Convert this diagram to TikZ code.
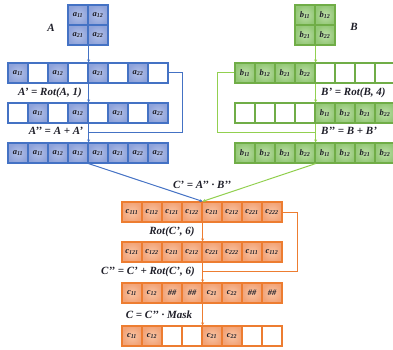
\documentclass[tikz,border=0pt]{standalone}
\usepackage{fontspec}
\usetikzlibrary{arrows.meta}
\newfontfamily\labfont{Liberation Serif}
\definecolor{bdA}{HTML}{4472C4}
\definecolor{fiA}{HTML}{8FA3DA}
\definecolor{inA}{HTML}{B2C0E8}
\definecolor{bdB}{HTML}{70AD47}
\definecolor{fiB}{HTML}{94C877}
\definecolor{inB}{HTML}{BCDEA8}
\definecolor{lnB}{HTML}{92D050}
\definecolor{bdC}{HTML}{ED7D31}
\definecolor{fiC}{HTML}{F2A377}
\definecolor{inC}{HTML}{F8C4A4}
\definecolor{ink}{HTML}{1E1E28}
\newcommand\sbs[1]{\textsubscript{#1}}
\tikzset{
  cellbase/.style={rectangle, minimum width=20pt, minimum height=20pt, inner sep=0pt,
    line width=1.2pt, text=ink, font=\labfont\bfseries\itshape\fontsize{8.5}{9}\selectfont},
  fa/.style={cellbase, draw=bdA, inner color=inA, outer color=fiA},
  ea/.style={cellbase, draw=bdA, fill=white},
  fb/.style={cellbase, draw=bdB, inner color=inB, outer color=fiB},
  eb/.style={cellbase, draw=bdB, fill=white},
  fc/.style={cellbase, draw=bdC, inner color=inC, outer color=fiC},
  ec/.style={cellbase, draw=bdC, fill=white},
  lbl/.style={text=ink, font=\labfont\bfseries\itshape\fontsize{11}{12}\selectfont, inner sep=1pt},
  flow/.style={line width=1pt},
  tip/.style={-{Stealth[length=3pt,width=3pt]}},
}
% one row of eight cells: name, left x, centre y, list of style/text
\newcommand\cellrow[4]{%
  \foreach \s/\t [count=\i] in {#4} {%
    \node[\s] (#1-\i) at ({#2+20*\i-10},#3) {\t};}}
\begin{document}
\begin{tikzpicture}[x=1pt,y=-1pt]
\useasboundingbox (0,0) rectangle (393,350);
\clip (0,0) rectangle (393,350);

% input matrices
\node[fa] (am-1) at (78,15) {a\sbs{11}};
\node[fa] (am-2) at (98,15) {a\sbs{12}};
\node[fa] (am-3) at (78,35) {a\sbs{21}};
\node[fa] (am-4) at (98,35) {a\sbs{22}};
\node[lbl] (alab) at (51,28) {A};

\node[fb] (bm-1) at (305,15) {b\sbs{11}};
\node[fb] (bm-2) at (325,15) {b\sbs{12}};
\node[fb] (bm-3) at (305,35) {b\sbs{21}};
\node[fb] (bm-4) at (325,35) {b\sbs{22}};
\node[lbl] (blab) at (354,27) {B};

% A rows
\cellrow{a1}{8}{73}{fa/a\sbs{11},ea/,fa/a\sbs{12},ea/,fa/a\sbs{21},ea/,fa/a\sbs{22},ea/}
\cellrow{a2}{8}{113}{ea/,fa/a\sbs{11},ea/,fa/a\sbs{12},ea/,fa/a\sbs{21},ea/,fa/a\sbs{22}}
\cellrow{a3}{8}{153}{fa/a\sbs{11},fa/a\sbs{11},fa/a\sbs{12},fa/a\sbs{12},fa/a\sbs{21},fa/a\sbs{21},fa/a\sbs{22},fa/a\sbs{22}}

% B rows
\cellrow{b1}{235}{73}{fb/b\sbs{11},fb/b\sbs{12},fb/b\sbs{21},fb/b\sbs{22},eb/,eb/,eb/,eb/}
\cellrow{b2}{235}{113}{eb/,eb/,eb/,eb/,fb/b\sbs{11},fb/b\sbs{12},fb/b\sbs{21},fb/b\sbs{22}}
\cellrow{b3}{235}{153}{fb/b\sbs{11},fb/b\sbs{12},fb/b\sbs{21},fb/b\sbs{22},fb/b\sbs{11},fb/b\sbs{12},fb/b\sbs{21},fb/b\sbs{22}}

% C rows
\cellrow{c1}{122}{212}{fc/c\sbs{111},fc/c\sbs{112},fc/c\sbs{121},fc/c\sbs{122},fc/c\sbs{211},fc/c\sbs{212},fc/c\sbs{221},fc/c\sbs{222}}
\cellrow{c2}{122}{252}{fc/c\sbs{121},fc/c\sbs{122},fc/c\sbs{211},fc/c\sbs{212},fc/c\sbs{221},fc/c\sbs{222},fc/c\sbs{111},fc/c\sbs{112}}
\cellrow{c3}{122}{293}{fc/c\sbs{11},fc/c\sbs{12},fc/\#\#,fc/\#\#,fc/c\sbs{21},fc/c\sbs{22},fc/\#\#,fc/\#\#}
\cellrow{c4}{122}{336}{fc/c\sbs{11},fc/c\sbs{12},ec/,ec/,fc/c\sbs{21},fc/c\sbs{22},ec/,ec/}

% operation labels
\node[lbl] (la1) at (50,93) {A’ = Rot(A, 1)};
\node[lbl] (la2) at (56,131) {A’’ = A + A’};
\node[lbl, anchor=west] (lb1) at (320,93) {B’ = Rot(B, 4)};
\node[lbl, anchor=west] (lb2) at (320,131) {B’’ = B + B’};
\node[lbl] (lc0) at (202,185) {C’ = A’’ · B’’};
\node[lbl] (lc1) at (172,232) {Rot(C’, 6)};
\node[lbl] (lc2) at (148,272) {C’’ = C’ + Rot(C’, 6)};
\node[lbl] (lc3) at (159,315) {C = C’’ · Mask};

% junction points
\coordinate (ajoin) at (88,132);
\coordinate (bjoin) at (315,132);
\coordinate (cjoin) at (202,271);

% A flow
\begin{scope}[flow, draw=bdA]
  \draw[tip] (am-3.south east) -- (a1-4.north east);
  \draw[tip] (a1-4.south east) -- (a2-4.north east);
  \draw[tip] (a2-4.south east) -- (a3-4.north east);
  \draw (a1-8.east) -- ++(14,0) |- (ajoin);
  \draw[tip] (a3-4.south east) -- (c1-4.north east);
\end{scope}

% B flow
\begin{scope}[flow, draw=lnB]
  \draw[tip] (bm-3.south east) -- (b1-4.north east);
  \draw[tip] (b1-4.south east) -- (b2-4.north east);
  \draw[tip] (b2-4.south east) -- (b3-4.north east);
  \draw (b1-1.west) -- ++(-17,0) |- (bjoin);
  \draw[tip] (b3-4.south east) -- (c1-4.north east);
\end{scope}

% C flow
\begin{scope}[flow, draw=bdC]
  \draw[tip] (c1-4.south east) -- (c2-4.north east);
  \draw[tip] (c2-4.south east) -- (c3-4.north east);
  \draw[tip] (c3-4.south east) -- (c4-4.north east);
  \draw (c1-8.east) -- ++(15,0) |- (cjoin);
\end{scope}
\end{tikzpicture}
\end{document}
